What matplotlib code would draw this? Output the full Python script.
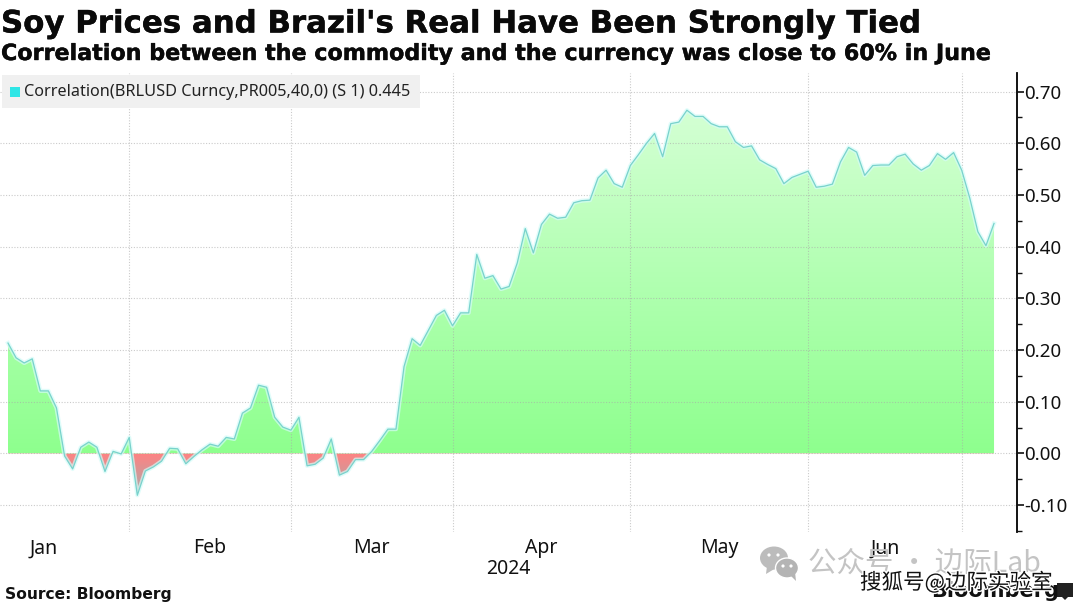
import numpy as np
import matplotlib
matplotlib.use("Agg")
import matplotlib.pyplot as plt
from matplotlib.patches import Ellipse, Rectangle, Polygon
import matplotlib.patheffects as pe

values = [0.2135,0.185,0.175,0.183,0.121,0.121,0.088,-0.005,-0.03,0.012,
          0.022,0.012,-0.035,0.004,-0.001,0.031,-0.081,-0.034,-0.026,-0.015,
          0.01,0.009,-0.02,-0.006,0.007,0.018,0.014,0.031,0.028,0.078,
          0.088,0.132,0.128,0.07,0.051,0.045,0.07,-0.024,-0.021,-0.009,
          0.028,-0.042,-0.035,-0.012,-0.012,0.004,0.025,0.047,0.047,0.168,
          0.222,0.209,0.238,0.267,0.277,0.247,0.272,0.272,0.385,0.339,
          0.344,0.318,0.323,0.368,0.435,0.388,0.443,0.463,0.455,0.457,
          0.485,0.489,0.49,0.533,0.548,0.522,0.515,0.557,0.578,0.60,
          0.619,0.574,0.638,0.641,0.664,0.652,0.652,0.638,0.632,0.632,
          0.603,0.592,0.595,0.568,0.559,0.551,0.522,0.534,0.54,0.546,
          0.515,0.517,0.521,0.564,0.592,0.583,0.538,0.557,0.558,0.558,
          0.574,0.579,0.56,0.548,0.557,0.58,0.569,0.582,0.548,0.494,
          0.429,0.402,0.445]
month_starts = [15, 35, 55, 77, 99, 118]
month_labels = ["Jan", "Feb", "Mar", "Apr", "May", "Jun"]
jan_label_pos = 4.45
y_major = [-0.10,0.00,0.10,0.20,0.30,0.40,0.50,0.60,0.70]
y_minor = [-0.15,-0.05,0.05,0.15,0.25,0.35,0.45,0.55,0.65]
title = "Soy Prices and Brazil's Real Have Been Strongly Tied"
subtitle = "Correlation between the commodity and the currency was close to 60% in June"
legend_text = "Correlation(BRLUSD Curncy,PR005,40,0) (S 1) 0.445"
source = "Source: Bloomberg"

W, H = 1076, 606
fig = plt.figure(figsize=(W/100, H/100), dpi=100, facecolor="white")
ax = fig.add_axes([0, (H-532)/H, 1016.5/W, (532-73)/H])
x = np.arange(len(values))
v = np.array(values)
ax.set_xlim(-0.99, 124.78)
ax.set_ylim(-0.152, 0.736)

# gradient fill
poly = ax.fill_between(x, v, 0, facecolor="none", edgecolor="none")
ys = np.linspace(0.736, -0.152, 900)
img = np.zeros((900, 1, 3))
top = np.array([212, 255, 212])/255; low = np.array([142, 255, 142])/255
rtop = np.array([255, 130, 130])/255; rlow = np.array([165, 175, 175])/255
for k, yy in enumerate(ys):
    if yy >= 0:
        img[k, 0] = low + (top-low)*min(yy/0.664, 1)
    else:
        img[k, 0] = rtop + (rlow-rtop)*min(-yy/0.085, 1)
im = ax.imshow(img, extent=[-0.99, 124.78, -0.152, 0.736], aspect="auto",
               interpolation="bilinear", zorder=1)
im.set_clip_path(poly.get_paths()[0], transform=ax.transData)

# grid
ax.set_yticks(y_major)
ax.set_yticks(y_minor, minor=True)
ax.set_xticks(month_starts, minor=True)
ax.set_xticks([jan_label_pos] + [(a+b)/2 for a, b in zip(month_starts[:-1], month_starts[1:])])
ax.set_xticklabels(month_labels, fontsize=14, color="#111111", fontfamily="Noto Sans")
ax.grid(True, which="major", axis="y", color="#a8a8a8", lw=0.8, ls=(0, (1, 1.5)), alpha=0.6, zorder=2)
ax.grid(True, which="minor", axis="x", color="#a8a8a8", lw=0.8, ls=(0, (1, 1.5)), alpha=0.6, zorder=2)
ax.grid(False, which="major", axis="x")
ax.set_axisbelow(False)

# line
ax.plot(x, v, color="#d4fcf8", lw=3, alpha=0.7, zorder=3)
ax.plot(x, v, color="#78d2cc", lw=0.9, zorder=4)

for s in ["top", "left", "bottom"]:
    ax.spines[s].set_visible(False)
ax.spines["right"].set_linewidth(1.3)
ax.yaxis.tick_right()
ax.tick_params(axis="y", which="major", length=4.8, width=1.2, labelsize=13.5, pad=1, direction="out", colors="#111111")
ax.tick_params(axis="y", which="minor", length=3.5, width=1.0, direction="out", color="#111111")
ax.tick_params(axis="x", which="both", length=0, pad=4.5)
ax.set_yticklabels([f"{t:.2f}" for t in y_major], fontfamily="Noto Sans")

# overlay in pixel coordinates
ov = fig.add_axes([0, 0, 1, 1], facecolor="none")
ov.set_xlim(0, W); ov.set_ylim(H, 0); ov.axis("off")
heavy = [pe.withStroke(linewidth=0.3, foreground="#0a0a0a")]
ov.add_patch(Rectangle((2, 75), 418, 33, fc="#f0f0f0", ec="none", zorder=5))
ov.add_patch(Rectangle((10, 87), 10, 10, fc="#2fe6e6", ec="none", zorder=6))
ov.text(24, 92, legend_text, fontsize=11.7, family="Noto Sans", va="center", color="#222222", zorder=6)
ov.text(1, 24, title, fontsize=22.2, fontweight="bold", family="DejaVu Sans", va="center", color="#0a0a0a", path_effects=heavy)
ov.text(1, 54, subtitle, fontsize=16.0, fontweight="bold", family="DejaVu Sans", va="center", color="#0a0a0a", path_effects=heavy)
ov.text(508, 569, "2024", fontsize=14, family="Noto Sans", ha="center", va="center", color="#111111")
ov.text(5, 594, source, fontsize=11.2, fontweight="bold", family="DejaVu Sans", va="center", color="#111111")

# watermarks
ov.add_patch(Ellipse((774, 558), 28, 23, fc="#bcbcbc", ec="none"))
ov.add_patch(Polygon([(767, 566), (766, 574), (776, 568)], fc="#bcbcbc", ec="none"))
ov.add_patch(Ellipse((787, 568), 23, 20, fc="#b4b4b4", ec="white", lw=1))
ov.add_patch(Polygon([(790, 575), (796, 581), (795, 572)], fc="#b4b4b4", ec="none"))
for ex, ey in [(769, 555), (778, 555), (783, 566), (791, 566)]:
    ov.add_patch(Ellipse((ex, ey), 3.2, 3.2, fc="white", ec="none"))
ov.text(808, 564, "公众号 · 边际Lab", fontsize=20.5, family=["Noto Sans CJK SC", "DejaVu Sans"],
        color="#c4c4c4", va="center")
ov.text(995, 591, "Bloomberg", fontsize=15, fontweight="bold", family="DejaVu Sans", ha="center", va="center", color="#111111")
ov.add_patch(Rectangle((1057, 583), 16, 14, fc="#222222", ec="none"))
ov.add_patch(Polygon([(1062, 597), (1068, 597), (1065, 600)], fc="#222222", ec="none"))
ov.text(860, 583, "搜狐号@边际实验室", fontsize=15.5, family=["Noto Sans CJK SC", "DejaVu Sans"],
        color="#111111", va="center",
        path_effects=[pe.withStroke(linewidth=2, foreground="white")])

fig.savefig("out.png", dpi=100)
